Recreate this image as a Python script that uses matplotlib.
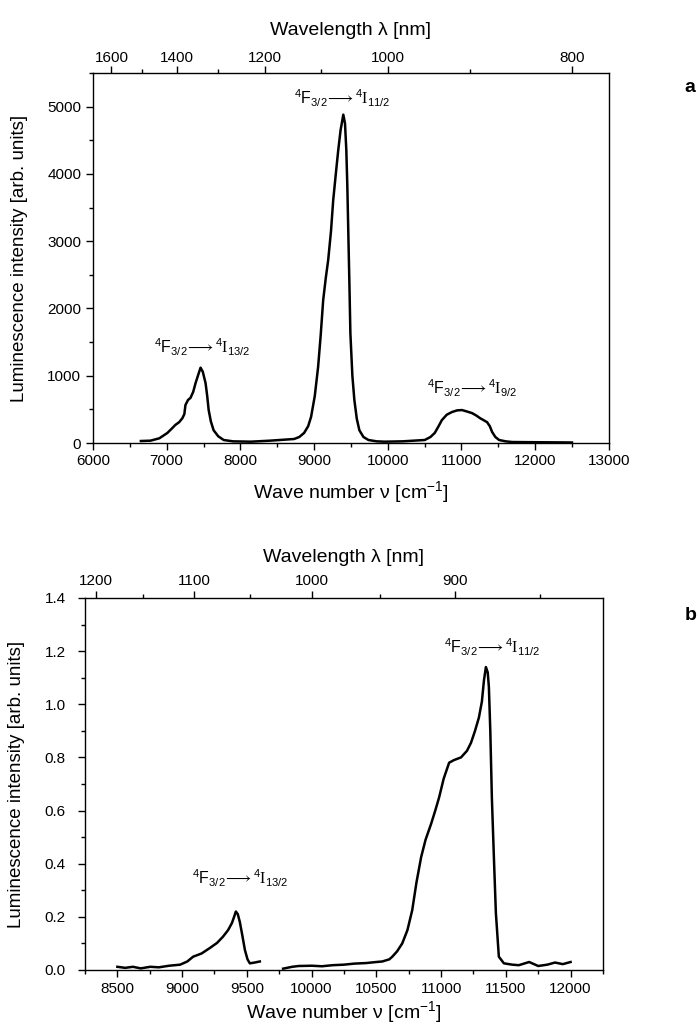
import matplotlib
matplotlib.use('Agg')
import matplotlib.pyplot as plt
from matplotlib.ticker import FixedLocator, MultipleLocator, NullFormatter, FormatStrFormatter

plt.rcParams['font.family'] = ['Liberation Sans', 'DejaVu Sans']
plt.rcParams['mathtext.fontset'] = 'custom'
plt.rcParams['mathtext.rm'] = 'Liberation Sans'
plt.rcParams['mathtext.it'] = 'Liberation Sans:italic'
plt.rcParams['mathtext.sf'] = 'Liberation Serif'

# panel a: Nd luminescence spectrum (wavenumber cm-1, intensity)
nu_a = [6650, 6780, 6900, 7010, 7070, 7119, 7170, 7214, 7240, 7255, 7290, 7323,
        7360, 7392, 7430, 7460, 7490, 7528, 7550, 7570, 7600, 7637, 7700, 7774,
        7900, 8140, 8400, 8600, 8730, 8800, 8865, 8920, 8960, 9010, 9055, 9090,
        9124, 9160, 9192, 9230, 9260, 9300, 9328, 9360, 9397, 9420, 9438, 9452,
        9465, 9480, 9493, 9520, 9547, 9580, 9615, 9670, 9738, 9850, 9956, 10200,
        10502, 10580, 10638, 10690, 10734, 10800, 10870, 10940, 11007, 11070, 11143,
        11200, 11252, 11300, 11348, 11385, 11416, 11460, 11511, 11600, 11689, 12000,
        12300, 12500]
int_a = [30, 35, 70, 150, 215, 270, 310, 370, 430, 565, 640, 670,
         760, 890, 1020, 1120, 1060, 890, 700, 490, 320, 190, 100, 45,
         25, 20, 35, 50, 60, 90, 150, 250, 390, 700, 1130, 1600,
         2125, 2460, 2720, 3150, 3610, 4050, 4350, 4650, 4880, 4750, 4350, 3800,
         3120, 2350, 1630, 1000, 640, 360, 190, 90, 45, 25, 20, 25,
         45, 90, 150, 250, 340, 420, 460, 485, 490, 470, 445,
         410, 370, 340, 310, 250, 165, 90, 45, 25, 15, 12,
         10, 8]

# panel b: two measured ranges with a gap
nu_b1 = [8500, 8560, 8620, 8680, 8754, 8820, 8900, 8985, 9040, 9085, 9150, 9215,
         9270, 9315, 9355, 9385, 9405, 9415, 9430, 9446, 9465, 9485, 9505, 9523,
         9560, 9600]
int_b1 = [0.012, 0.008, 0.012, 0.006, 0.012, 0.010, 0.016, 0.020, 0.032, 0.050, 0.062, 0.083,
          0.102, 0.125, 0.150, 0.177, 0.205, 0.220, 0.210, 0.180, 0.130, 0.075, 0.040, 0.025,
          0.028, 0.032]
nu_b2 = [9780, 9850, 9900, 10000, 10080, 10162, 10250, 10330, 10420, 10500, 10546,
         10600, 10623, 10660, 10700, 10740, 10777, 10810, 10846, 10880, 10923, 10955,
         10985, 11020, 11062, 11100, 11154, 11200, 11231, 11262, 11292, 11315, 11331,
         11346, 11360, 11369, 11380, 11392, 11408, 11423, 11446, 11485, 11550, 11600,
         11680, 11750, 11820, 11880, 11940, 12000]
int_b2 = [0.005, 0.012, 0.015, 0.016, 0.014, 0.018, 0.020, 0.024, 0.026, 0.030, 0.032,
          0.040, 0.050, 0.070, 0.100, 0.150, 0.225, 0.330, 0.425, 0.490, 0.550, 0.600,
          0.650, 0.720, 0.780, 0.790, 0.800, 0.825, 0.855, 0.900, 0.950, 1.010, 1.090,
          1.140, 1.120, 1.065, 0.900, 0.650, 0.420, 0.215, 0.050, 0.025, 0.020, 0.018,
          0.030, 0.015, 0.020, 0.028, 0.022, 0.030]

wl_major_a = [1600, 1400, 1200, 1000, 800]
wl_minor_a = [1500, 1300, 1100, 900]
wl_major_b = [1200, 1100, 1000, 900]
wl_minor_b = [1150, 1050, 950, 850]

lbl_11 = r'$^{4}\mathrm{F}_{3/2}\!\longrightarrow{}^{4}\mathsf{I}_{11/2}$'
lbl_13 = r'$^{4}\mathrm{F}_{3/2}\!\longrightarrow{}^{4}\mathsf{I}_{13/2}$'
lbl_9 = r'$^{4}\mathrm{F}_{3/2}\!\longrightarrow{}^{4}\mathsf{I}_{9/2}$'


def nm(x):
    return 1e7 / x


def style_axes(ax, wl_major, wl_minor, xpad, ypad, toppad, toplabelpad, ylab_x, xlab_y):
    ax.tick_params(which='both', direction='out', labelsize=11, width=1)
    ax.tick_params(which='major', length=5)
    ax.tick_params(which='minor', length=3)
    ax.tick_params(axis='x', pad=xpad)
    ax.tick_params(axis='y', pad=ypad)
    for s in ax.spines.values():
        s.set_linewidth(1)
    ax.spines['top'].set_visible(False)
    top = ax.secondary_xaxis('top', functions=(nm, nm))
    top.xaxis.set_major_locator(FixedLocator(wl_major))
    top.xaxis.set_minor_locator(FixedLocator(wl_minor))
    top.xaxis.set_minor_formatter(NullFormatter())
    top.tick_params(which='both', direction='out', labelsize=11, width=1, pad=toppad)
    top.tick_params(which='major', length=5)
    top.tick_params(which='minor', length=3)
    top.spines['top'].set_linewidth(1)
    top.set_xlabel('Wavelength λ [nm]', fontsize=14, labelpad=toplabelpad)
    ax.set_xlabel(r'Wave number ν [cm$^{-1}$]', fontsize=14)
    ax.xaxis.set_label_coords(0.5, xlab_y)
    ax.set_ylabel('Luminescence intensity [arb. units]', fontsize=13.5)
    ax.yaxis.set_label_coords(ylab_x, 0.5)


fig = plt.figure(figsize=(6.99, 10.26), dpi=100)

ax1 = fig.add_axes([0.133, 0.5682, 0.738, 0.3607])
ax1.plot(nu_a, int_a, color='black', lw=1.8)
ax1.set_xlim(6000, 13000)
ax1.set_ylim(0, 5500)
ax1.xaxis.set_major_locator(MultipleLocator(1000))
ax1.xaxis.set_minor_locator(MultipleLocator(500))
ax1.yaxis.set_major_locator(MultipleLocator(1000))
ax1.yaxis.set_minor_locator(MultipleLocator(500))
style_axes(ax1, wl_major_a, wl_minor_a, xpad=3, ypad=3.5, toppad=0.5, toplabelpad=12,
           ylab_x=-0.125, xlab_y=-0.098)
ax1.text(9390, 5120, lbl_11, ha='center', va='center', fontsize=11.5)
ax1.text(7490, 1430, lbl_13, ha='center', va='center', fontsize=11.5)
ax1.text(11140, 815, lbl_9, ha='center', va='center', fontsize=11.5)

ax2 = fig.add_axes([0.1216, 0.0546, 0.741, 0.3626])
ax2.plot(nu_b1, int_b1, color='black', lw=1.8)
ax2.plot(nu_b2, int_b2, color='black', lw=1.8)
ax2.set_xlim(8250, 12250)
ax2.set_ylim(0, 1.4)
ax2.xaxis.set_major_locator(MultipleLocator(500))
ax2.xaxis.set_minor_locator(MultipleLocator(250))
ax2.yaxis.set_major_locator(MultipleLocator(0.2))
ax2.yaxis.set_minor_locator(MultipleLocator(0.1))
ax2.yaxis.set_major_formatter(FormatStrFormatter('%.1f'))
style_axes(ax2, wl_major_b, wl_minor_b, xpad=4, ypad=9, toppad=2.5, toplabelpad=8,
           ylab_x=-0.115, xlab_y=-0.078)
ax2.text(11392, 1.215, lbl_11, ha='center', va='center', fontsize=11.5)
ax2.text(9446, 0.345, lbl_13, ha='center', va='center', fontsize=11.5)

fig.text(690 / 699, 1 - 87 / 1026, 'a', fontsize=14, fontweight='bold', ha='center', va='center')
fig.text(691 / 699, 1 - 615 / 1026, 'b', fontsize=14, fontweight='bold', ha='center', va='center')

fig.savefig('out.png', dpi=100)
